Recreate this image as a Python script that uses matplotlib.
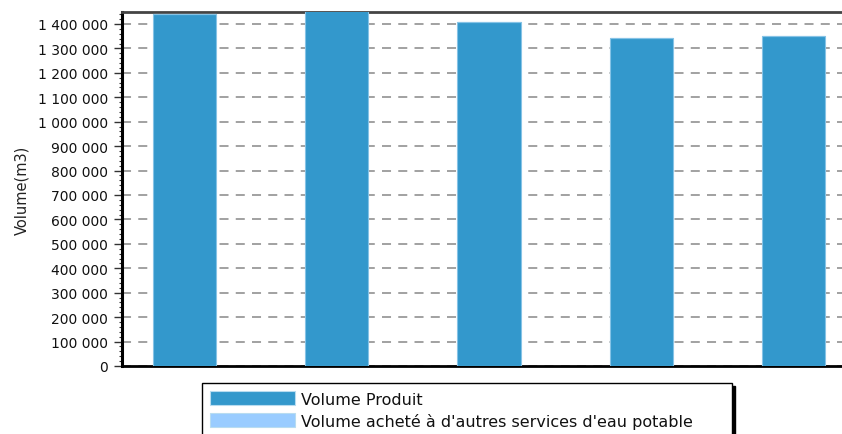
import matplotlib
matplotlib.use("Agg")
import matplotlib.pyplot as plt
from matplotlib.patches import Patch
from matplotlib.ticker import FuncFormatter, MultipleLocator

# Annual volumes (m3)
years = ["2008", "2009", "2010", "2011", "2012"]
volume_produit = [1441000, 1470000, 1410000, 1341000, 1349000]
volume_achete = [0, 0, 0, 0, 0]
series_labels = ["Volume Produit", "Volume acheté à d'autres services d'eau potable"]
series_colors = ["#3398cc", "#99ccff"]

plt.rcParams["font.family"] = ["DejaVu Sans"]

W, H = 842, 435
fig = plt.figure(figsize=(W / 100, H / 100), dpi=100)
ax = fig.add_axes([122 / W, 1 - 367 / H, (856 - 122) / W, (367 - 13) / H])

x = range(len(years))
ax.bar(x, volume_produit, width=0.415, color=series_colors[0],
       edgecolor="#86c3e6", linewidth=0.8, zorder=3)
ax.bar(x, volume_achete, width=0.415, bottom=volume_produit,
       color=series_colors[1], edgecolor="#86c3e6", linewidth=0.8, zorder=3)

ax.set_xlim(-0.41, 4.41)
ax.set_ylim(0, 1449000)
ax.set_xticks([])

ax.yaxis.set_major_locator(MultipleLocator(100000))
ax.yaxis.set_minor_locator(MultipleLocator(20000))
ax.yaxis.set_major_formatter(
    FuncFormatter(lambda v, p: f"{int(v):,}".replace(",", " ")))
ax.tick_params(axis="y", which="major", length=6, width=1, color="#333333",
               labelsize=10, pad=4, labelcolor="#111111")
ax.tick_params(axis="y", which="minor", length=2, width=0.8, color="#333333")

ax.yaxis.grid(True, which="major", linestyle=(0, (5, 4)), color="#9a9a9a",
              linewidth=1.3, zorder=0)
ax.set_axisbelow(True)

ax.spines["left"].set_linewidth(2.2)
ax.spines["left"].set_color("black")
ax.spines["bottom"].set_linewidth(2)
ax.spines["bottom"].set_color("black")
ax.spines["top"].set_linewidth(2)
ax.spines["top"].set_color("#444444")
ax.spines["right"].set_linewidth(2)

ax.set_ylabel("Volume(m3)", fontsize=10.5, color="#222222", labelpad=6)

handles = [Patch(facecolor=c, edgecolor="#b8dcf0", linewidth=0.8)
           for c in series_colors]
leg = fig.legend(handles, series_labels, loc="upper left",
                 bbox_to_anchor=(202 / W, 1 - 384 / H, 530 / W, 0.0),
                 mode="expand",
                 frameon=True, fancybox=False,
                 shadow={"color": "black", "alpha": 1},
                 fontsize=11.5, handlelength=5.3, handleheight=1.0,
                 handletextpad=0.4, labelspacing=0.38, borderpad=0.5,
                 borderaxespad=0)
leg.get_frame().set_edgecolor("black")
leg.get_frame().set_linewidth(1)
for t in leg.get_texts():
    t.set_color("#111111")

fig.savefig("out.png", dpi=100)
